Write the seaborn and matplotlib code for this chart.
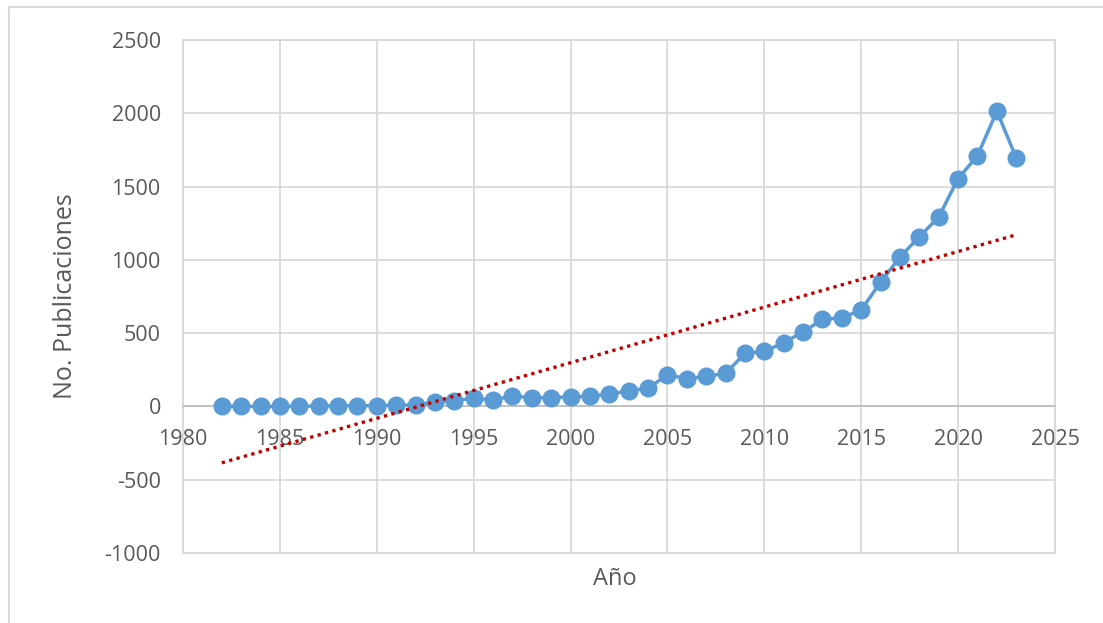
import matplotlib
matplotlib.use("Agg")
import matplotlib.pyplot as plt
import seaborn as sns
import numpy as np
from matplotlib.patches import Rectangle

years = list(range(1982, 2024))
publicaciones = [0, 0, 0, 0, 2, 2, 5, 5, 5, 8, 10, 30, 40, 55, 45, 70, 60, 60, 65, 70,
                 85, 105, 125, 215, 190, 205, 225, 362, 375, 435, 508, 594, 605, 658,
                 848, 1019, 1158, 1292, 1555, 1710, 2015, 1695]

x_ticks = list(range(1980, 2030, 5))
y_ticks = list(range(-1000, 3000, 500))

sns.set_style("white")
plt.rcParams["font.family"] = ["Open Sans", "DejaVu Sans"]
plt.rcParams["axes.unicode_minus"] = False

fig = plt.figure(figsize=(11.03, 6.23), dpi=100)
ax = fig.add_axes([183 / 1103, 70 / 623, 872 / 1103, 513 / 623])

# outer chart frame (top and left edges visible)
fig.patches.append(Rectangle((9 / 1103, -0.1), 1.2, (623 - 7) / 623 + 0.1,
                             transform=fig.transFigure, fill=False,
                             edgecolor="#d9d9d9", linewidth=1.5))

sns.lineplot(x=years, y=publicaciones, ax=ax, color="#5b9bd5", linewidth=2.5,
             marker="o", markersize=13, markeredgewidth=0, zorder=3)

# linear trend line (Excel style)
slope, intercept = np.polyfit(years, publicaciones, 1)
trend = [slope * y + intercept for y in years]
sns.lineplot(x=years, y=trend, ax=ax, color="#c00000", linewidth=2.4,
             linestyle=(0, (1, 1.3)), zorder=4)

ax.set_xlim(1980, 2025)
ax.set_ylim(-1000, 2500)
ax.set_xticks(x_ticks)
ax.set_yticks(y_ticks)
ax.grid(True, color="#d9d9d9", linewidth=1.3)
ax.set_axisbelow(True)

for side in ["top", "right", "left"]:
    ax.spines[side].set_color("#d9d9d9")
    ax.spines[side].set_linewidth(1.3)
ax.spines["bottom"].set_position(("data", 0))
ax.spines["bottom"].set_color("#bfbfbf")
ax.spines["bottom"].set_linewidth(1.3)
ax.plot([0, 1], [0, 0], transform=ax.transAxes, color="#d9d9d9", linewidth=1.3, clip_on=False)

ax.tick_params(axis="both", length=0, labelsize=15.5, labelcolor="#595959")
ax.tick_params(axis="x", pad=16)
ax.tick_params(axis="y", pad=16)

ax.set_xlabel("Año", fontsize=17, color="#595959")
ax.set_ylabel("No. Publicaciones", fontsize=18, color="#595959")
ax.xaxis.set_label_coords(0.495, -0.027)
ax.yaxis.set_label_coords(-0.12, 0.5)

fig.savefig("out.png", dpi=100, facecolor="white")
